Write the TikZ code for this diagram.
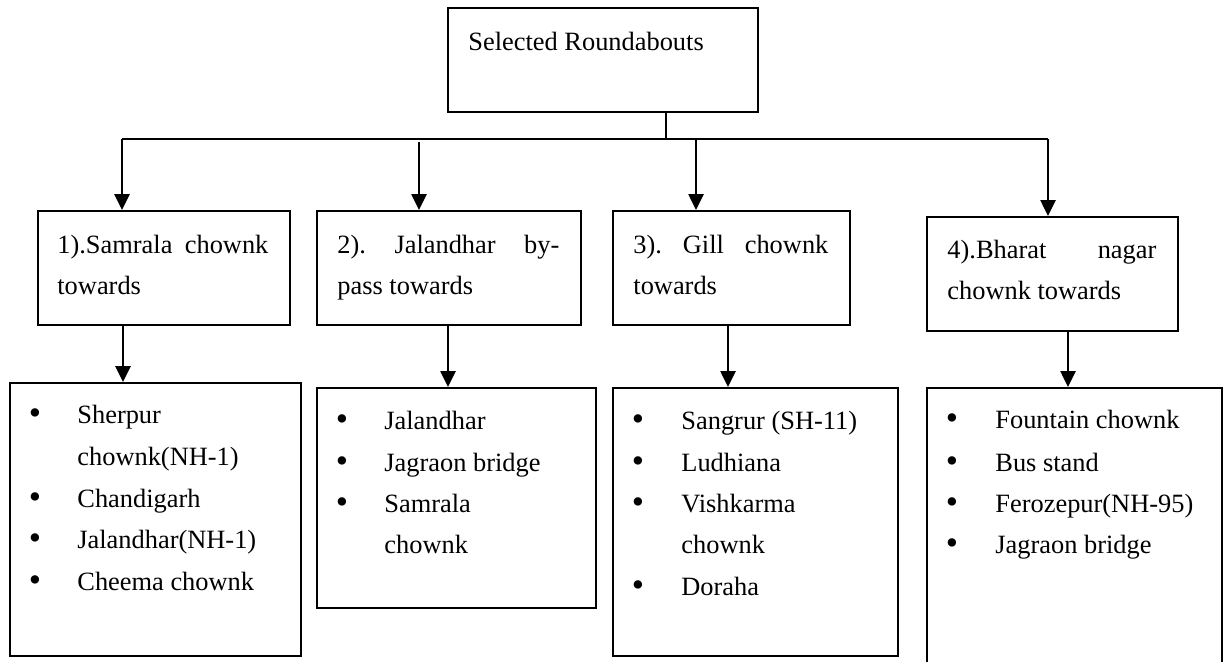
\documentclass[tikz,border=0pt]{standalone}
\usepackage{fontspec}
\setmainfont{Liberation Serif}
\usetikzlibrary{arrows.meta}
\tikzset{
  box/.style={draw=black, line width=0.9pt, rectangle, anchor=north west, inner sep=0pt},
  txt/.style={anchor=base west, inner sep=0pt, font=\fontsize{13.2}{15.6}\selectfont},
  bul/.style={anchor=base, inner sep=0pt, yshift=-0.6pt, font=\fontsize{17.5}{20}\selectfont},
  ln/.style={draw=black, line width=0.9pt},
  arr/.style={draw=black, line width=1.3pt, -{Triangle[width=7.5pt,length=8pt]}}
}
\begin{document}
\begin{tikzpicture}[x=0.5pt,y=-0.5pt]
\clip (0,0) rectangle (1224,661);
\fill[white] (0,0) rectangle (1224,661);
% boxes
\node[box, minimum width=155pt, minimum height=52pt] (top) at (447,7) {};
\node[box, minimum width=126pt, minimum height=57pt] (h1) at (37,210) {};
\node[box, minimum width=132pt, minimum height=57pt] (h2) at (316,210) {};
\node[box, minimum width=118.5pt, minimum height=57pt] (h3) at (612,210) {};
\node[box, minimum width=125.5pt, minimum height=57pt] (h4) at (926,216) {};
\node[box, minimum width=145.5pt, minimum height=136.5pt] (b1) at (9,382) {};
\node[box, minimum width=139.5pt, minimum height=110pt] (b2) at (316,387) {};
\node[box, minimum width=142.5pt, minimum height=134pt] (b3) at (612,387) {};
\node[box, minimum width=147.5pt, minimum height=160pt] (b4) at (926,387) {};
% tree connectors
\coordinate (j) at (666,139);
\coordinate (hl) at (122,139);
\coordinate (hr) at (1048,139);
\coordinate (a2) at (419,142);
\coordinate (a3) at (696,139);
\draw[ln] (top.south -| j) -- (j);
\draw[ln] (hl) -- (hr);
\draw[arr] (hl) -- (hl |- h1.north);
\draw[arr] (a2) -- (a2 |- h2.north);
\draw[arr] (a3) -- (a3 |- h3.north);
\draw[arr] (hr) -- (hr |- h4.north);
\coordinate (c1) at (123,0);
\coordinate (c2) at (448,0);
\coordinate (c3) at (728,0);
\coordinate (c4) at (1068,0);
\draw[arr] (h1.south -| c1) -- (b1.north -| c1);
\draw[arr] (h2.south -| c2) -- (b2.north -| c2);
\draw[arr] (h3.south -| c3) -- (b3.north -| c3);
\draw[arr] (h4.south -| c4) -- (b4.north -| c4);
% titles
\node[txt] (ttop) at (468,50) {Selected Roundabouts};
\node[txt] (t1a) at (57,253) {\hbox to 105.5pt{1).Samrala\hfill chownk}};
\node[txt] (t1b) at (57,294) {towards};
\node[txt] (t2a) at (337,253) {\hbox to 111pt{2).\hfill Jalandhar\hfill by-}};
\node[txt] (t2b) at (337,294) {pass towards};
\node[txt] (t3a) at (633,253) {\hbox to 97.5pt{3).\hfill Gill\hfill chownk}};
\node[txt] (t3b) at (633,294) {towards};
\node[txt] (t4a) at (947,258) {\hbox to 104.5pt{4).Bharat\hfill nagar}};
\node[txt] (t4b) at (947,299) {chownk towards};
% list 1
\node[bul] (u11) at (35,423) {•};
\node[txt] (i11) at (77,423) {Sherpur};
\node[txt] (i12) at (77,465) {chownk(NH-1)};
\node[bul] (u13) at (35,507) {•};
\node[txt] (i13) at (77,507) {Chandigarh};
\node[bul] (u14) at (35,548) {•};
\node[txt] (i14) at (77,548) {Jalandhar(NH-1)};
\node[bul] (u15) at (35,590) {•};
\node[txt] (i15) at (77,590) {Cheema chownk};
% list 2
\node[bul] (u21) at (342,429) {•};
\node[txt] (i21) at (384,429) {Jalandhar};
\node[bul] (u22) at (342,471) {•};
\node[txt] (i22) at (384,471) {Jagraon bridge};
\node[bul] (u23) at (342,512) {•};
\node[txt] (i23) at (384,512) {Samrala};
\node[txt] (i24) at (384,553) {chownk};
% list 3
\node[bul] (u31) at (638,429) {•};
\node[txt] (i31) at (681,429) {Sangrur (SH-11)};
\node[bul] (u32) at (638,471) {•};
\node[txt] (i32) at (681,471) {Ludhiana};
\node[bul] (u33) at (638,512) {•};
\node[txt] (i33) at (681,512) {Vishkarma};
\node[txt] (i34) at (681,553) {chownk};
\node[bul] (u35) at (638,595) {•};
\node[txt] (i35) at (681,595) {Doraha};
% list 4
\node[bul] (u41) at (952,428) {•};
\node[txt] (i41) at (995,428) {Fountain chownk};
\node[bul] (u42) at (952,471) {•};
\node[txt] (i42) at (995,471) {Bus stand};
\node[bul] (u43) at (952,512) {•};
\node[txt] (i43) at (995,512) {Ferozepur(NH-95)};
\node[bul] (u44) at (952,553) {•};
\node[txt] (i44) at (995,553) {Jagraon bridge};
\end{tikzpicture}
\end{document}
